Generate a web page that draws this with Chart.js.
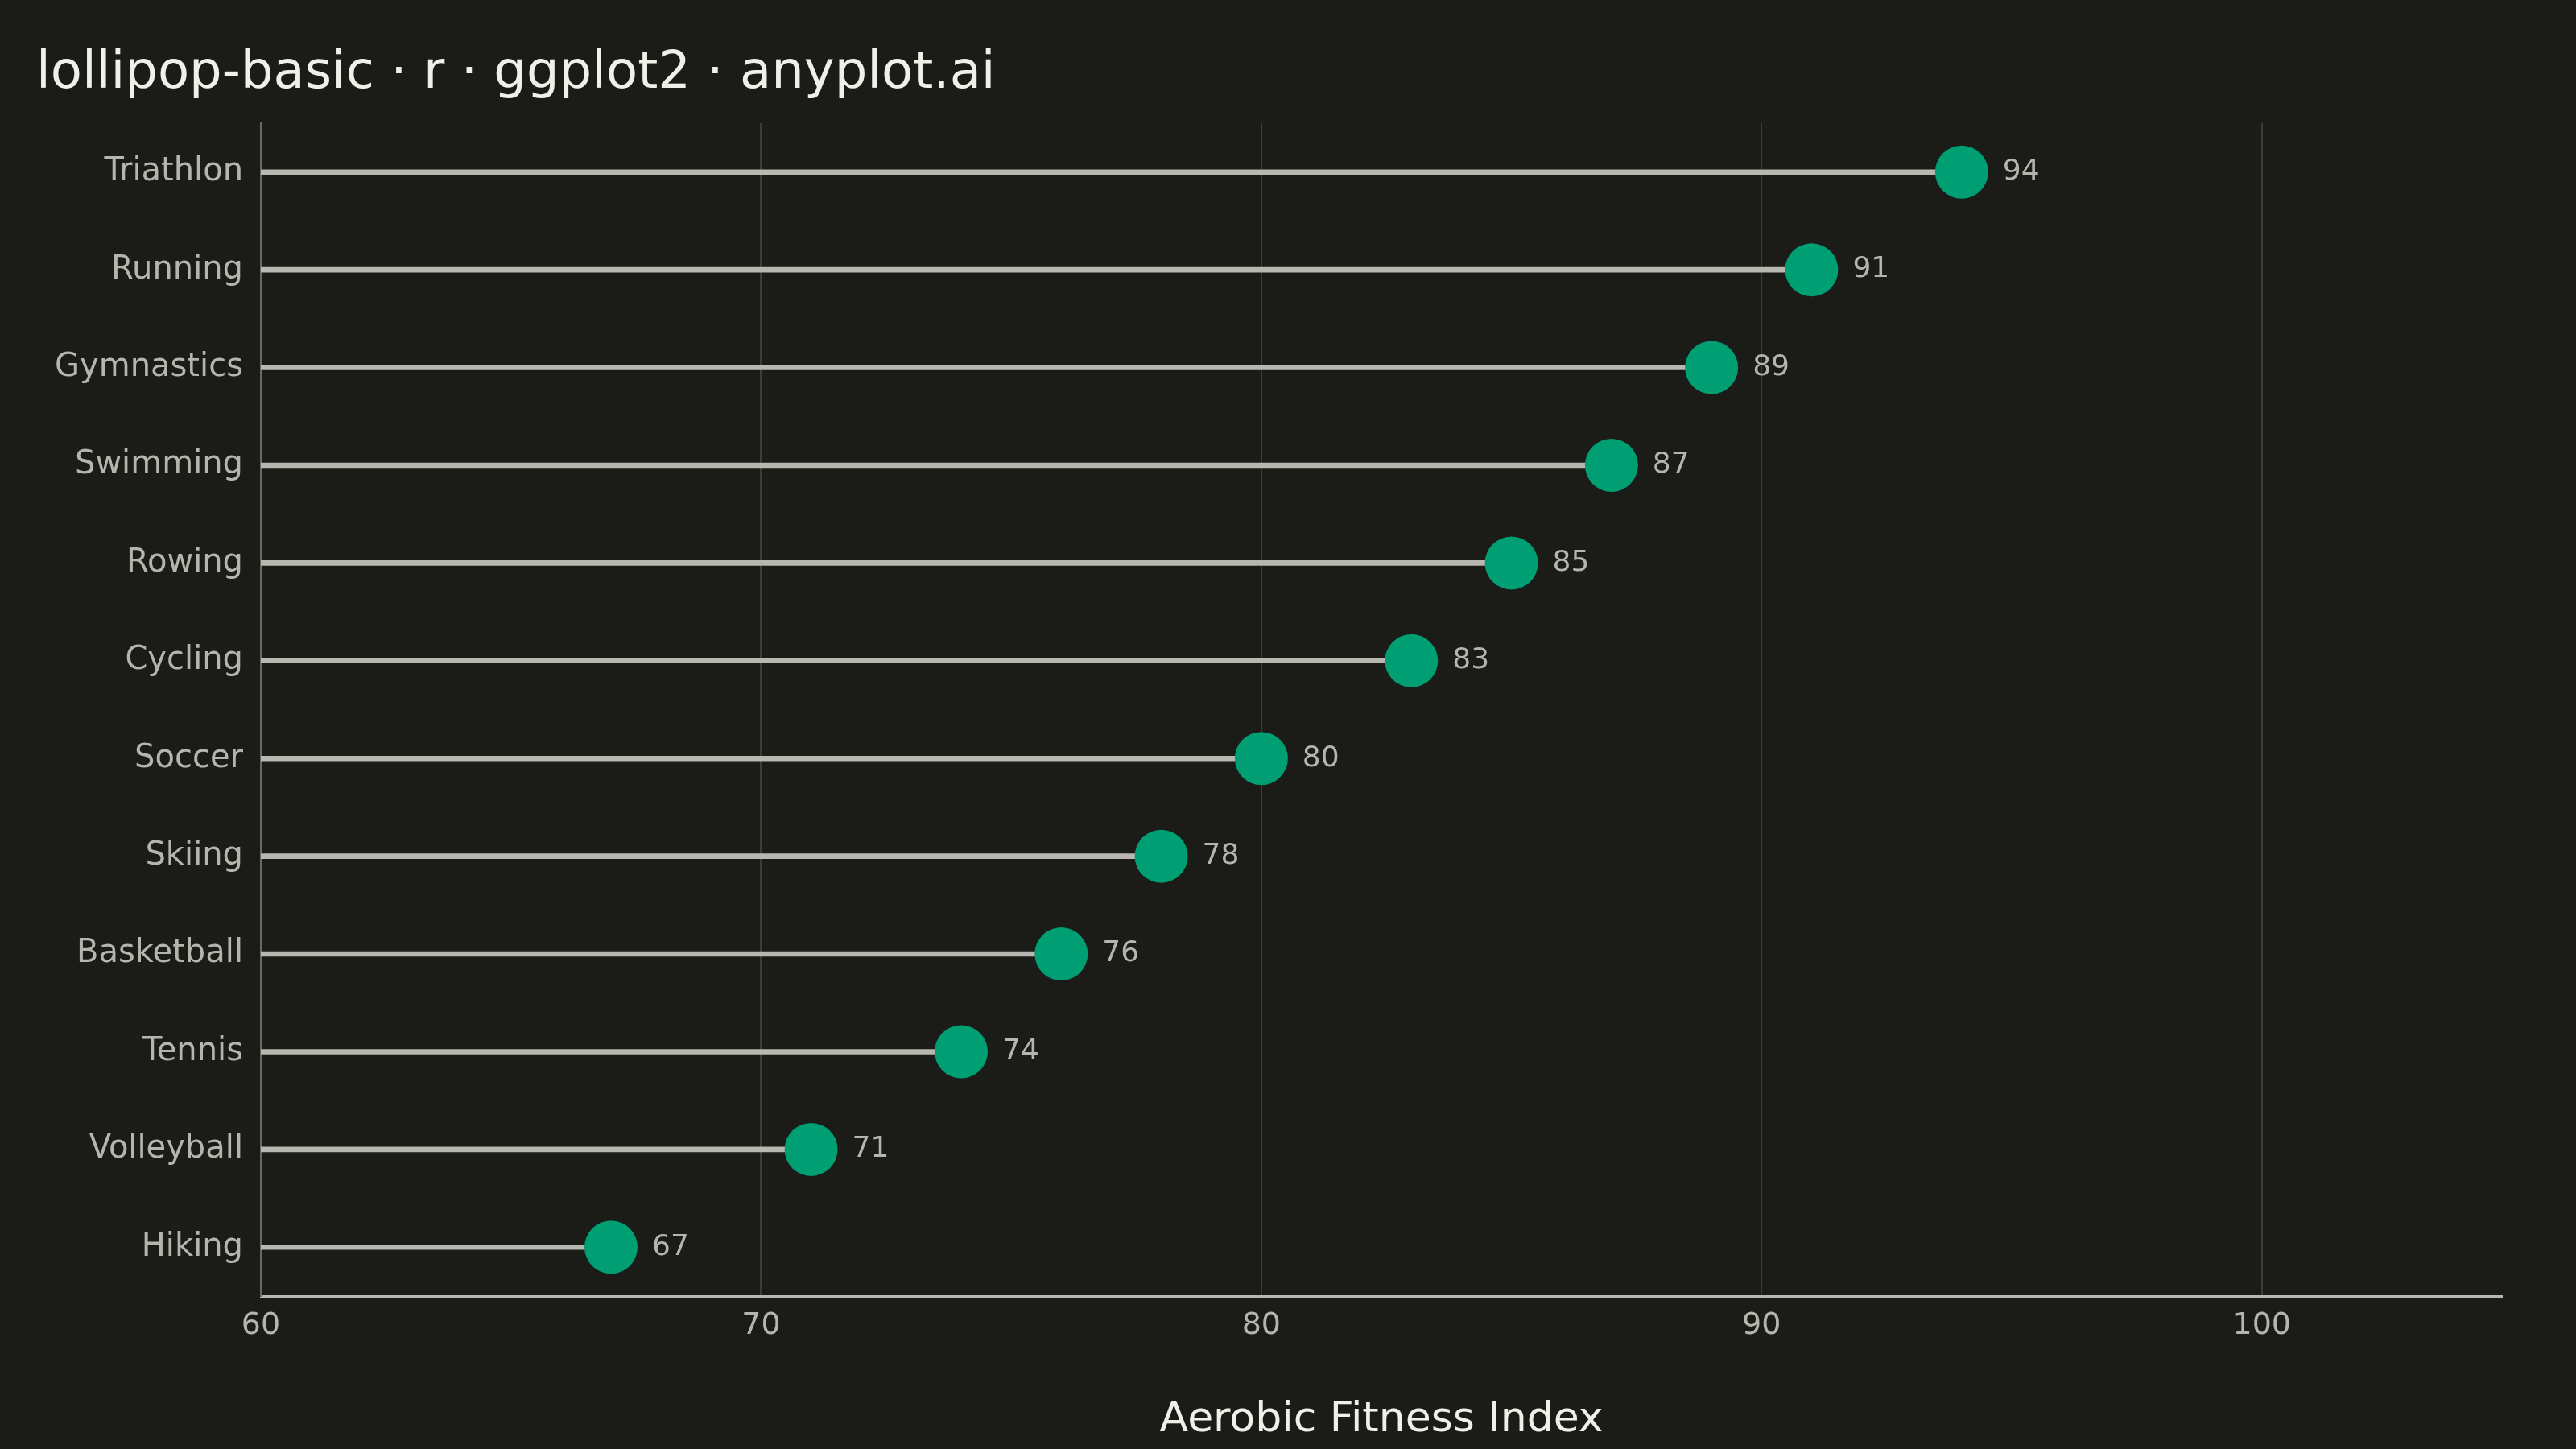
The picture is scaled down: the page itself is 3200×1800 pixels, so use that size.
<!DOCTYPE html>
<html>
<head>
<meta charset="utf-8">
<script src="https://cdn.jsdelivr.net/npm/chart.js@4/dist/chart.umd.min.js"></script>
<style>
  html, body { margin: 0; padding: 0; background: #1b1b17; }
  canvas { display: block; }
</style>
</head>
<body>
<canvas id="chart" width="3200" height="1800"></canvas>
<script>
const sports = ["Triathlon", "Running", "Gymnastics", "Swimming", "Rowing", "Cycling",
  "Soccer", "Skiing", "Basketball", "Tennis", "Volleyball", "Hiking"];
const scores = [94, 91, 89, 87, 85, 83, 80, 78, 76, 74, 71, 67];
const xTicks = [60, 70, 80, 90, 100];

const FONT = "'DejaVu Sans', sans-serif";

const titlePlugin = {
  id: "titleAndLabels",
  afterDatasetsDraw(chart) {
    const ctx = chart.ctx;
    const meta = chart.getDatasetMeta(1);
    ctx.save();
    ctx.fillStyle = "#b5b5ad";
    ctx.font = `36px ${FONT}`;
    ctx.textBaseline = "middle";
    ctx.textAlign = "left";
    meta.data.forEach((pt, i) => ctx.fillText(String(scores[i]), pt.x + 51, pt.y));
    ctx.fillStyle = "#f0efe8";
    ctx.font = `64px ${FONT}`;
    ctx.textBaseline = "middle";
    ctx.fillText("lollipop-basic · r · ggplot2 · anyplot.ai", 45, 92);
    ctx.restore();
  },
};

new Chart(document.getElementById("chart"), {
  data: {
    labels: sports,
    datasets: [
      {
        type: "bar",
        data: scores.map((v) => [60, v]),
        backgroundColor: "#b8b8b0",
        barThickness: 6,
        order: 2,
      },
      {
        type: "line",
        data: scores,
        showLine: false,
        pointRadius: 33,
        pointHoverRadius: 33,
        pointBackgroundColor: "#009e73",
        pointBorderWidth: 0,
        order: 1,
      },
    ],
  },
  options: {
    indexAxis: "y",
    responsive: false,
    animation: false,
    devicePixelRatio: 1,
    layout: { padding: { top: 153, right: 92, bottom: 0, left: 0 } },
    plugins: { legend: { display: false }, tooltip: { enabled: false } },
    scales: {
      x: {
        type: "linear",
        min: 60,
        max: 104.8,
        afterBuildTicks: (axis) => { axis.ticks = xTicks.map((v) => ({ value: v })); },
        afterFit: (axis) => { axis.height = 190; },
        grid: { color: "#3d3d38", lineWidth: 2, drawTicks: false },
        border: { color: "#b8b8b0", width: 3 },
        ticks: { color: "#b5b5ad", font: { family: FONT, size: 38 }, padding: 14 },
        title: { display: true, text: "Aerobic Fitness Index", color: "#f0efe8",
          font: { family: FONT, size: 52 }, padding: { top: 4 } },
      },
      y: {
        type: "category",
        afterFit: (axis) => { axis.width = 324; },
        grid: { display: false, drawTicks: false },
        border: { color: "#6a6a64", width: 2 },
        ticks: { color: "#b5b5ad", font: { family: FONT, size: 40 }, padding: 22 },
      },
    },
  },
  plugins: [titlePlugin],
});
</script>
</body>
</html>
